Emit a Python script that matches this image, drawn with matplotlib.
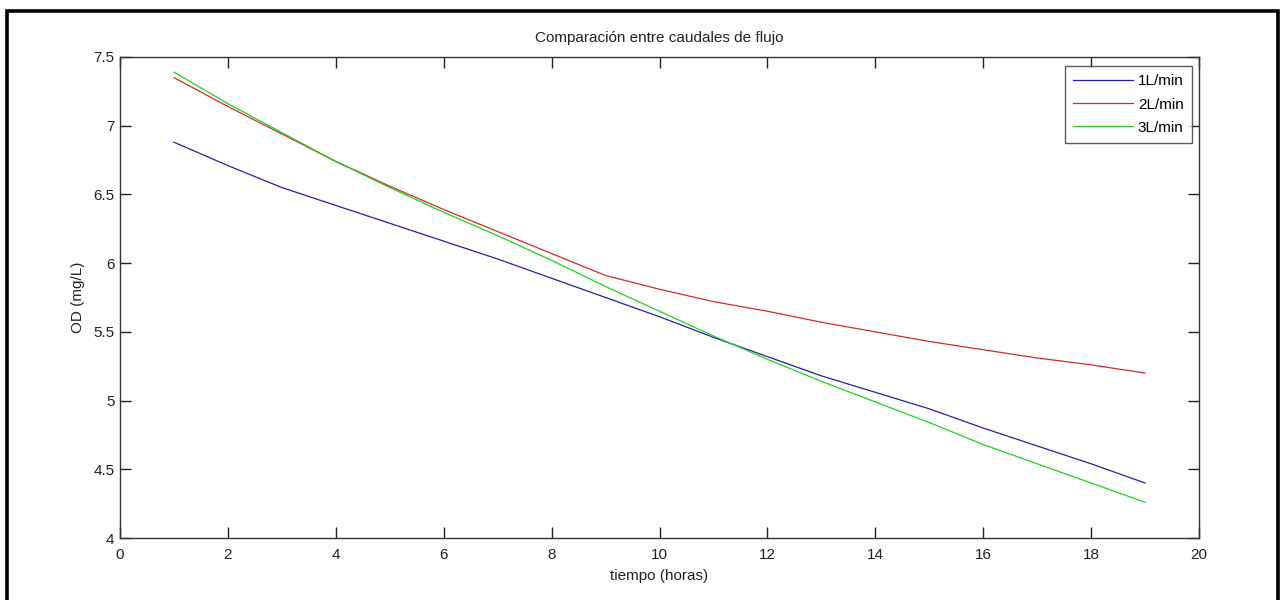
import matplotlib
matplotlib.use("Agg")
import matplotlib.pyplot as plt
from matplotlib.patches import Rectangle

hours = [1, 2, 3, 4, 5, 6, 7, 8, 9, 10, 11, 12, 13, 14, 15, 16, 17, 18, 19]
od_1lmin = [6.88, 6.71, 6.55, 6.42, 6.29, 6.16, 6.03, 5.89, 5.75, 5.61,
            5.46, 5.32, 5.18, 5.06, 4.94, 4.80, 4.67, 4.54, 4.40]
od_2lmin = [7.35, 7.14, 6.94, 6.74, 6.56, 6.39, 6.23, 6.07, 5.91, 5.81,
            5.72, 5.65, 5.57, 5.50, 5.43, 5.37, 5.31, 5.26, 5.20]
od_3lmin = [7.39, 7.16, 6.95, 6.74, 6.55, 6.37, 6.20, 6.02, 5.83, 5.65,
            5.47, 5.30, 5.14, 4.99, 4.84, 4.68, 4.54, 4.40, 4.26]
labels = ["1L/min", "2L/min", "3L/min"]
xticks = [0, 2, 4, 6, 8, 10, 12, 14, 16, 18, 20]
yticks = [4, 4.5, 5, 5.5, 6, 6.5, 7, 7.5]
ytick_labels = ["4", "4.5", "5", "5.5", "6", "6.5", "7", "7.5"]

plt.rcParams['font.family'] = ['Liberation Sans', 'DejaVu Sans']
FS = 11
plt.rcParams['font.size'] = FS

W, H = 1285, 600
fig = plt.figure(figsize=(W / 100, H / 100), dpi=100)
fig.patch.set_facecolor('white')

# outer black frame
fig.patches.append(Rectangle((6.5 / W, -0.02), (1278 - 6.5) / W, 1.02 - 11.5 / H,
                             transform=fig.transFigure, fill=False,
                             edgecolor='black', linewidth=2.6))

ax = fig.add_axes([120 / W, 1 - 538 / H, (1199 - 120) / W, (538 - 57) / H])
ax.plot(hours, od_1lmin, color='#2222a0', lw=0.9, label=labels[0])
ax.plot(hours, od_2lmin, color='#d02a2a', lw=0.9, label=labels[1])
ax.plot(hours, od_3lmin, color='#22d022', lw=0.9, label=labels[2])

ax.set_xlim(0, 20)
ax.set_ylim(4, 7.5)
ax.set_xticks(xticks)
ax.set_yticks(yticks)
ax.set_yticklabels(ytick_labels)
ax.tick_params(direction='in', length=8, width=1.0, top=True, right=True,
               labelsize=FS, colors='#222222')
ax.tick_params(axis='x', pad=7)
ax.tick_params(axis='y', pad=4)
for s in ax.spines.values():
    s.set_linewidth(1.0)
    s.set_color('#333333')

ax.set_title("Comparación entre caudales de flujo", fontsize=FS, pad=11, color='#222222')
ax.set_xlabel("tiempo (horas)", fontsize=FS, labelpad=5, color='#222222')
ax.set_ylabel("OD (mg/L)", fontsize=FS, labelpad=6, color='#222222')

leg = ax.legend(loc='upper right', bbox_to_anchor=((1192 - 120) / 1079, (538 - 66) / 481),
                borderaxespad=0, frameon=True, fancybox=False, fontsize=FS,
                handlelength=3.9, handletextpad=0.35, labelspacing=0.6,
                borderpad=0.55, edgecolor='#333333')
leg.get_frame().set_linewidth(1.0)

fig.savefig("out.png", dpi=100, facecolor='white')
